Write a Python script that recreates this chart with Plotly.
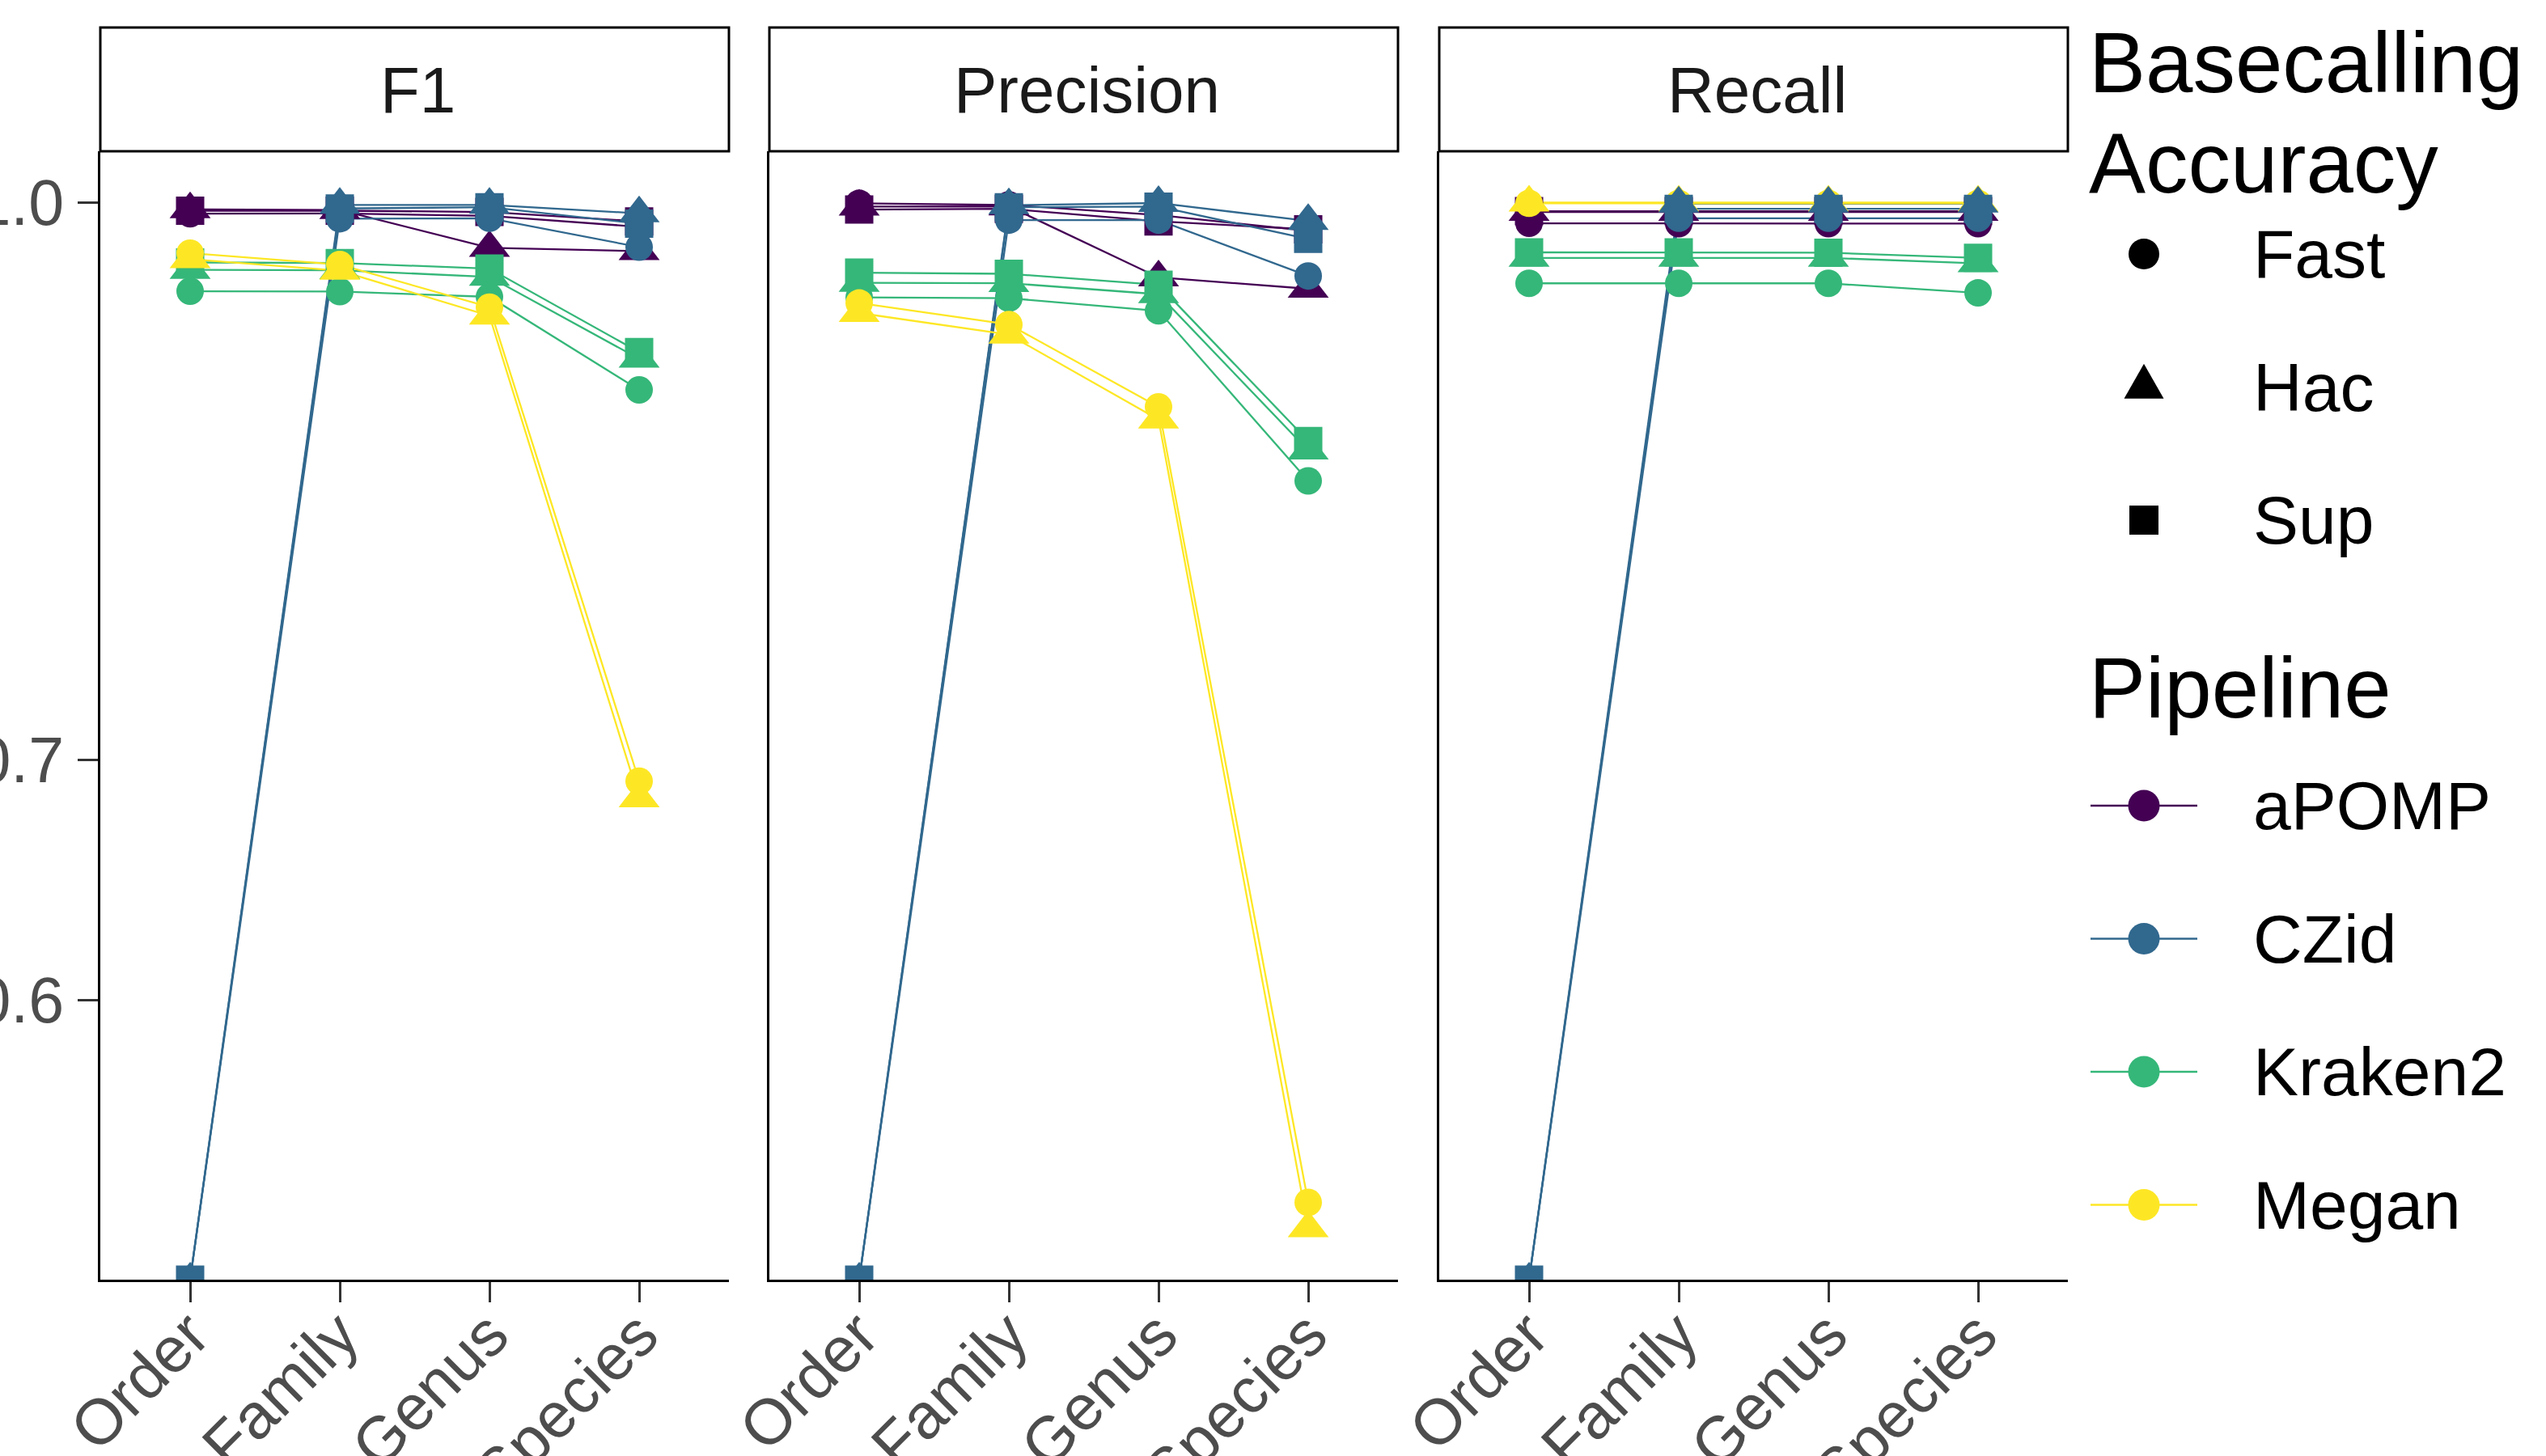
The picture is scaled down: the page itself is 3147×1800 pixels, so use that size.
import math
import plotly.graph_objects as go

# ---------------- data ----------------
ranks = ["Order", "Family", "Genus", "Species"]
metrics = ["F1", "Precision", "Recall"]
pipelines = ["aPOMP", "CZid", "Kraken2", "Megan"]
accuracies = ["Fast", "Hac", "Sup"]
pipeline_colors = ["#440154", "#31688E", "#35B779", "#FDE725"]
y_tick_values = [0.6, 0.7, 1.0]
y_tick_labels = ["0.6", "0.7", "1.0"]

# F1
f1_apomp_fast = [0.9929, 0.9930, 0.9915, 0.9846]
f1_apomp_hac = [0.9957, 0.9952, 0.9714, 0.9694]
f1_apomp_sup = [0.9948, 0.9948, 0.9940, 0.9880]
f1_czid_fast = [0.0, 0.9897, 0.9900, 0.9719]
f1_czid_hac = [0.0, 0.9985, 0.9985, 0.9931]
f1_czid_sup = [0.0, 0.9962, 0.9970, 0.9866]
f1_kraken_fast = [0.9448, 0.9446, 0.9414, 0.8870]
f1_kraken_hac = [0.9578, 0.9576, 0.9535, 0.9048]
f1_kraken_sup = [0.9624, 0.9620, 0.9586, 0.9087]
f1_megan_fast = [0.9681, 0.9611, 0.9352, 0.6904]
f1_megan_hac = [0.9644, 0.9573, 0.9301, 0.6828]

# Precision
pr_apomp_fast = [0.9995, 0.9985, 0.9920, 0.9820]
pr_apomp_hac = [0.9974, 0.9975, 0.9532, 0.9463]
pr_apomp_sup = [0.9955, 0.9960, 0.9880, 0.9830]
pr_czid_fast = [0.0, 0.9888, 0.9888, 0.9541]
pr_czid_hac = [0.0, 0.9983, 0.9997, 0.9883]
pr_czid_sup = [0.0, 0.9970, 0.9974, 0.9770]
pr_kraken_fast = [0.9411, 0.9406, 0.9330, 0.8368]
pr_kraken_hac = [0.9499, 0.9497, 0.9430, 0.8532]
pr_kraken_sup = [0.9561, 0.9554, 0.9487, 0.8584]
pr_megan_fast = [0.9377, 0.9249, 0.8774, 0.5272]
pr_megan_hac = [0.9317, 0.9189, 0.8703, 0.5185]

# Recall
re_apomp_fast = [0.9868, 0.9866, 0.9866, 0.9866]
re_apomp_hac = [0.9940, 0.9940, 0.9940, 0.9940]
re_apomp_sup = [0.9945, 0.9945, 0.9945, 0.9945]
re_czid_fast = [0.0, 0.9900, 0.9900, 0.9900]
re_czid_hac = [0.0, 0.9993, 0.9993, 0.9993]
re_czid_sup = [0.0, 0.9960, 0.9960, 0.9960]
re_kraken_fast = [0.9496, 0.9496, 0.9496, 0.9438]
re_kraken_hac = [0.9652, 0.9652, 0.9652, 0.9618]
re_kraken_sup = [0.9686, 0.9686, 0.9684, 0.9652]
re_megan_fast = [0.9995, 0.9995, 0.9995, 0.9995]
re_megan_hac = [1.0, 1.0, 1.0, 1.0]

series = {
    ("F1", "aPOMP", "Fast"): f1_apomp_fast, ("F1", "aPOMP", "Hac"): f1_apomp_hac, ("F1", "aPOMP", "Sup"): f1_apomp_sup,
    ("F1", "CZid", "Fast"): f1_czid_fast, ("F1", "CZid", "Hac"): f1_czid_hac, ("F1", "CZid", "Sup"): f1_czid_sup,
    ("F1", "Kraken2", "Fast"): f1_kraken_fast, ("F1", "Kraken2", "Hac"): f1_kraken_hac, ("F1", "Kraken2", "Sup"): f1_kraken_sup,
    ("F1", "Megan", "Fast"): f1_megan_fast, ("F1", "Megan", "Hac"): f1_megan_hac,
    ("Precision", "aPOMP", "Fast"): pr_apomp_fast, ("Precision", "aPOMP", "Hac"): pr_apomp_hac, ("Precision", "aPOMP", "Sup"): pr_apomp_sup,
    ("Precision", "CZid", "Fast"): pr_czid_fast, ("Precision", "CZid", "Hac"): pr_czid_hac, ("Precision", "CZid", "Sup"): pr_czid_sup,
    ("Precision", "Kraken2", "Fast"): pr_kraken_fast, ("Precision", "Kraken2", "Hac"): pr_kraken_hac, ("Precision", "Kraken2", "Sup"): pr_kraken_sup,
    ("Precision", "Megan", "Fast"): pr_megan_fast, ("Precision", "Megan", "Hac"): pr_megan_hac,
    ("Recall", "aPOMP", "Fast"): re_apomp_fast, ("Recall", "aPOMP", "Hac"): re_apomp_hac, ("Recall", "aPOMP", "Sup"): re_apomp_sup,
    ("Recall", "CZid", "Fast"): re_czid_fast, ("Recall", "CZid", "Hac"): re_czid_hac, ("Recall", "CZid", "Sup"): re_czid_sup,
    ("Recall", "Kraken2", "Fast"): re_kraken_fast, ("Recall", "Kraken2", "Hac"): re_kraken_hac, ("Recall", "Kraken2", "Sup"): re_kraken_sup,
    ("Recall", "Megan", "Fast"): re_megan_fast, ("Recall", "Megan", "Hac"): re_megan_hac,
}

# ---------------- styling ----------------
W, H = 3147, 1800
FONT = "Liberation Sans, Arial, Helvetica, sans-serif"
symbols = {"Fast": "circle", "Hac": "triangle-up", "Sup": "square"}
msizes = {"Fast": 34, "Hac": 44, "Sup": 35}
LINE_W = 2.3
# drawing order of points (later = on top), as in the reference
point_order = ["aPOMP", "Kraken2", "Megan", "CZid"]


def px_x(px):
    return px / W


def px_y(py):
    return 1 - py / H


panel_left = [124, 951, 1779]
panel_w = 777
panel_top, panel_bot = 187, 1582
strip_top = 34

# y range: log scale with 5% expansion (as ggplot), zeros drawn at the lower edge
positives = [v for vals in series.values() for v in vals if v > 0]
lo, hi = math.log10(min(positives)), math.log10(max(positives))
span = hi - lo
yrange = [lo - 0.05 * span, hi + 0.05 * span]
floor_val = 10 ** yrange[0]

fig = go.Figure()

for mi, metric in enumerate(metrics):
    ax = "" if mi == 0 else str(mi + 1)
    # lines first
    for pi, pipe in enumerate(pipelines):
        for acc in accuracies:
            key = (metric, pipe, acc)
            if key not in series:
                continue
            yv = [v if v > 0 else floor_val for v in series[key]]
            fig.add_trace(go.Scatter(
                x=ranks, y=yv, mode="lines", xaxis="x" + ax, yaxis="y" + ax,
                line=dict(color=pipeline_colors[pi], width=LINE_W),
                showlegend=False, hoverinfo="skip", cliponaxis=True))
    # then points
    for pipe in point_order:
        pi = pipelines.index(pipe)
        for acc in accuracies:
            key = (metric, pipe, acc)
            if key not in series:
                continue
            yv = [v if v > 0 else floor_val for v in series[key]]
            fig.add_trace(go.Scatter(
                x=ranks, y=yv, mode="markers", xaxis="x" + ax, yaxis="y" + ax,
                marker=dict(color=pipeline_colors[pi], symbol=symbols[acc], size=msizes[acc],
                            line=dict(width=0)),
                name=f"{pipe} {acc}", showlegend=False, cliponaxis=True))

layout_axes = {}
for mi, metric in enumerate(metrics):
    ax = "" if mi == 0 else str(mi + 1)
    x0 = px_x(panel_left[mi])
    x1 = px_x(panel_left[mi] + panel_w)
    layout_axes["xaxis" + ax] = dict(
        domain=[x0, x1], anchor="y" + ax, type="category", automargin=False,
        categoryorder="array", categoryarray=ranks, range=[-0.6, 3.6],
        showline=True, linecolor="black", linewidth=3, mirror=False,
        ticks="outside", ticklen=25, tickwidth=2.5, tickcolor="#333333",
        tickangle=-45, ticklabelstandoff=-38,
        tickfont=dict(family=FONT, size=79, color="#4D4D4D"),
        showgrid=False, zeroline=False, fixedrange=True)
    layout_axes["yaxis" + ax] = dict(
        domain=[px_y(panel_bot), px_y(panel_top)], anchor="x" + ax, type="log", automargin=False,
        range=yrange, showline=True, linecolor="black", linewidth=3,
        tickmode="array", tickvals=y_tick_values, ticktext=y_tick_labels,
        ticks="outside" if mi == 0 else "", ticklen=25, tickwidth=2.5, tickcolor="#333333",
        showticklabels=(mi == 0), ticklabelstandoff=1,
        tickfont=dict(family=FONT, size=79, color="#4D4D4D"),
        showgrid=False, zeroline=False, fixedrange=True)

shapes = []
annotations = []

# facet strips
for mi, metric in enumerate(metrics):
    x0 = px_x(panel_left[mi])
    x1 = px_x(panel_left[mi] + panel_w)
    shapes.append(dict(type="rect", xref="paper", yref="paper", x0=x0, x1=x1,
                       y0=px_y(panel_top), y1=px_y(strip_top),
                       line=dict(color="black", width=3), fillcolor="white", layer="above"))
    annotations.append(dict(text=metric, xref="paper", yref="paper",
                            x=(x0 + x1) / 2 + px_x(4), y=px_y((strip_top + panel_top) / 2 + 1),
                            xanchor="center", yanchor="middle", showarrow=False,
                            font=dict(family=FONT, size=80, color="#1A1A1A")))

# legend: Basecalling Accuracy (shapes)
LEG_X = 2580
KEY_CX = 2650
LABEL_X = 2783
TITLE_SIZE = 105
LABEL_SIZE = 84
for ti, (txt, cy) in enumerate([("Basecalling", 77), ("Accuracy", 201)]):
    annotations.append(dict(text=txt, xref="paper", yref="paper", x=px_x(LEG_X), y=px_y(cy),
                            xanchor="left", yanchor="middle", showarrow=False,
                            font=dict(family=FONT, size=TITLE_SIZE, color="black")))
acc_y0, acc_step = 314, 164.5
for ai, acc in enumerate(accuracies):
    cy = acc_y0 + acc_step * ai
    if acc == "Fast":
        r = 19
        shapes.append(dict(type="circle", xref="paper", yref="paper",
                           x0=px_x(KEY_CX - r), x1=px_x(KEY_CX + r), y0=px_y(cy + r), y1=px_y(cy - r),
                           fillcolor="black", line=dict(width=0)))
    elif acc == "Hac":
        hw, hgt = 24.5, 43
        ax_, ay_ = KEY_CX, cy - hgt * 2 / 3
        bl = (KEY_CX - hw, cy + hgt / 3)
        br = (KEY_CX + hw, cy + hgt / 3)
        path = f"M{px_x(ax_)},{px_y(ay_)} L{px_x(br[0])},{px_y(br[1])} L{px_x(bl[0])},{px_y(bl[1])} Z"
        shapes.append(dict(type="path", xref="paper", yref="paper", path=path,
                           fillcolor="black", line=dict(width=0)))
    else:
        s = 18
        shapes.append(dict(type="rect", xref="paper", yref="paper",
                           x0=px_x(KEY_CX - s), x1=px_x(KEY_CX + s), y0=px_y(cy + s), y1=px_y(cy - s),
                           fillcolor="black", line=dict(width=0)))
    annotations.append(dict(text=acc, xref="paper", yref="paper", x=px_x(LABEL_X), y=px_y(cy),
                            xanchor="left", yanchor="middle", showarrow=False,
                            font=dict(family=FONT, size=LABEL_SIZE, color="black")))

# legend: Pipeline (line + point)
annotations.append(dict(text="Pipeline", xref="paper", yref="paper", x=px_x(LEG_X), y=px_y(851),
                        xanchor="left", yanchor="middle", showarrow=False,
                        font=dict(family=FONT, size=TITLE_SIZE, color="black")))
pipe_y0, pipe_step = 996, 164.5
for pi, pipe in enumerate(pipelines):
    cy = pipe_y0 + pipe_step * pi
    col = pipeline_colors[pi]
    shapes.append(dict(type="line", xref="paper", yref="paper",
                       x0=px_x(2584), x1=px_x(2716), y0=px_y(cy), y1=px_y(cy),
                       line=dict(color=col, width=LINE_W)))
    r = 19.5
    shapes.append(dict(type="circle", xref="paper", yref="paper",
                       x0=px_x(KEY_CX - r), x1=px_x(KEY_CX + r), y0=px_y(cy + r), y1=px_y(cy - r),
                       fillcolor=col, line=dict(width=0)))
    annotations.append(dict(text=pipe, xref="paper", yref="paper", x=px_x(LABEL_X), y=px_y(cy),
                            xanchor="left", yanchor="middle", showarrow=False,
                            font=dict(family=FONT, size=LABEL_SIZE, color="black")))

fig.update_layout(
    template="none",
    width=W, height=H,
    margin=dict(l=0, r=0, t=0, b=0, pad=0, autoexpand=False),
    paper_bgcolor="white", plot_bgcolor="white",
    showlegend=False,
    font=dict(family=FONT, color="black"),
    shapes=shapes, annotations=annotations,
    **layout_axes,
)

fig.write_html("out.html", include_plotlyjs=True,
               config={"displayModeBar": False, "responsive": False},
               post_script="document.body.style.margin='0';document.body.style.overflow='hidden';")
